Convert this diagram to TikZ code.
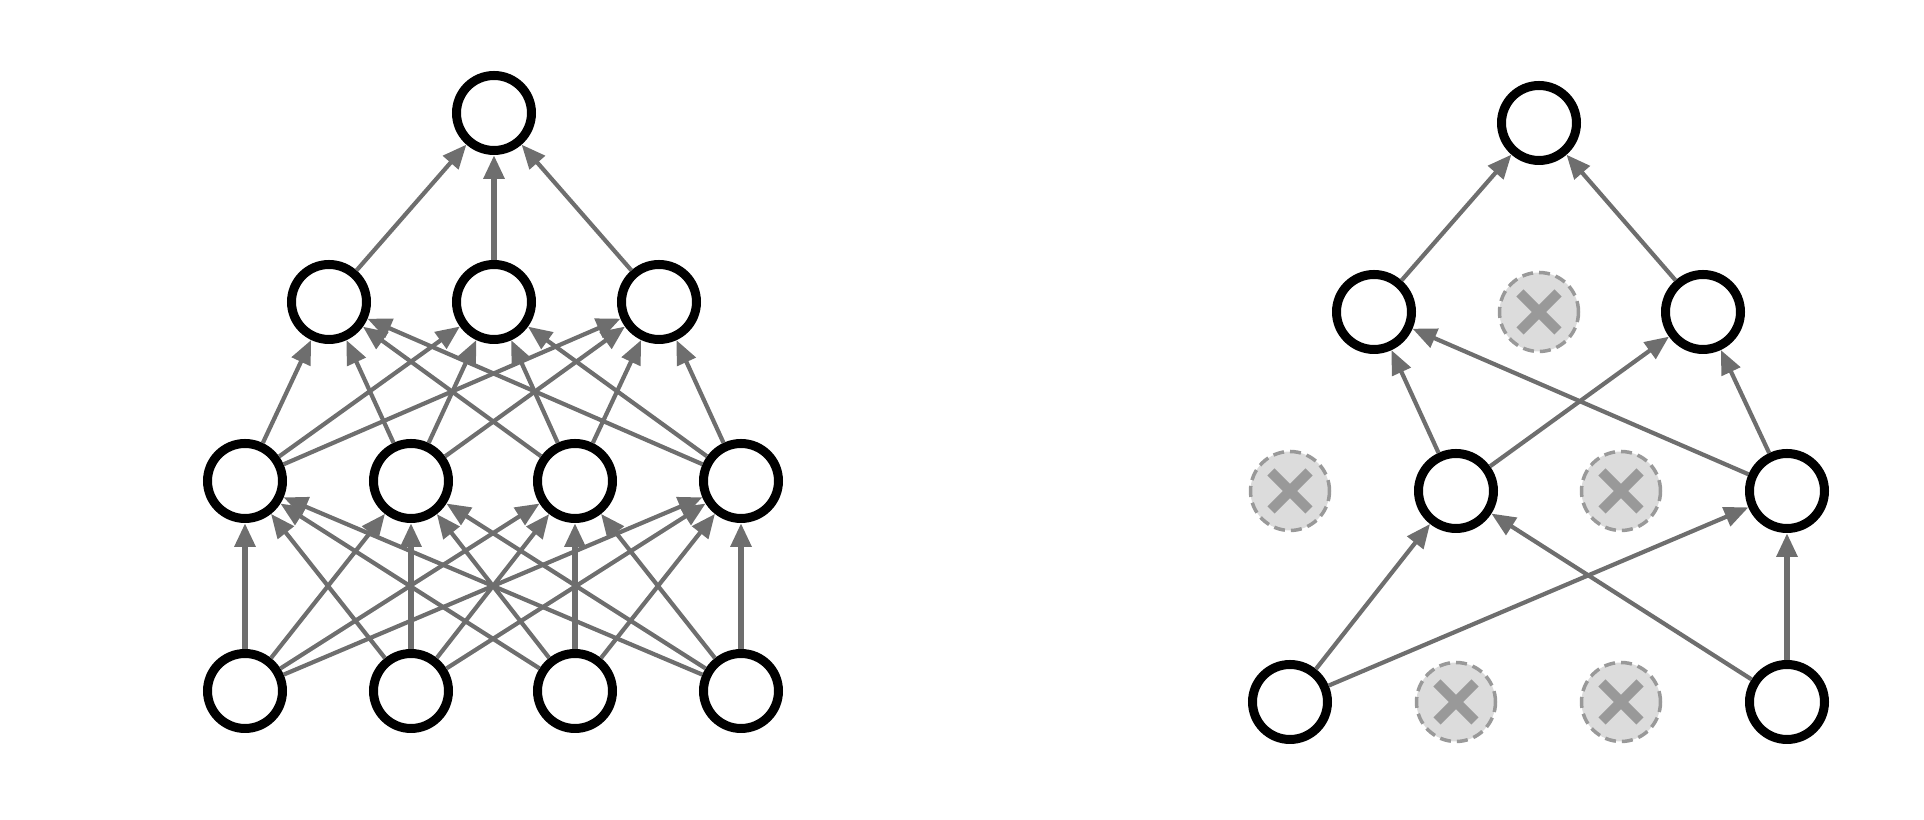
\documentclass[tikz,border=0pt]{standalone}
\usepackage{xcolor}
\usepackage{tikz}
\usetikzlibrary{arrows.meta}

\definecolor{abu}{HTML}{6E6E6E}
\definecolor{abumuda}{HTML}{DCDCDC}
\definecolor{abugaris}{HTML}{999999}

\begin{document}
\begin{tikzpicture}[
    neuron/.style={draw, circle, line width=0.09cm, minimum size=0.75cm, inner sep=0pt},
    putus/.style={draw=abugaris, dash pattern=on 0.11cm off 0.06cm, circle,
                  fill=abumuda, line width=0.035cm, minimum size=0.79cm, inner sep=0pt,
                  path picture={
                    \draw[solid, abugaris, line width=0.1cm]
                      (path picture bounding box.center) ++(-0.19,-0.19) -- ++(0.38,0.38);
                    \draw[solid, abugaris, line width=0.1cm]
                      (path picture bounding box.center) ++(-0.19,0.19) -- ++(0.38,-0.38);
                  }},
    panah/.style={-{Triangle[length=0.24cm, width=0.2cm]}, abu, line width=0.042cm},
    tebal/.style={panah, line width=0.06cm}
  ]
    \useasboundingbox (0,0) rectangle (19.24,8.20);

    % jaringan penuh (kiri)
    \node[neuron] (y) at (4.94,7.07) {};
    \node[neuron] (g1) at (3.29,5.18) {};
    \node[neuron] (g2) at (4.94,5.18) {};
    \node[neuron] (g3) at (6.59,5.18) {};
    \node[neuron] (h1) at (2.45,3.39) {};
    \node[neuron] (h2) at (4.11,3.39) {};
    \node[neuron] (h3) at (5.75,3.39) {};
    \node[neuron] (h4) at (7.41,3.39) {};
    \node[neuron] (x1) at (2.45,1.29) {};
    \node[neuron] (x2) at (4.11,1.29) {};
    \node[neuron] (x3) at (5.75,1.29) {};
    \node[neuron] (x4) at (7.41,1.29) {};

    \draw[panah] (g1) -- (y);
    \draw[tebal] (g2) -- (y);
    \draw[panah] (g3) -- (y);

    \draw[panah] (h1) -- (g1); \draw[panah] (h1) -- (g2); \draw[panah] (h1) -- (g3);
    \draw[panah] (h2) -- (g1); \draw[panah] (h2) -- (g2); \draw[panah] (h2) -- (g3);
    \draw[panah] (h3) -- (g1); \draw[panah] (h3) -- (g2); \draw[panah] (h3) -- (g3);
    \draw[panah] (h4) -- (g1); \draw[panah] (h4) -- (g2); \draw[panah] (h4) -- (g3);

    \draw[tebal] (x1) -- (h1); \draw[panah] (x1) -- (h2);
    \draw[panah] (x1) -- (h3); \draw[panah] (x1) -- (h4);
    \draw[panah] (x2) -- (h1); \draw[tebal] (x2) -- (h2);
    \draw[panah] (x2) -- (h3); \draw[panah] (x2) -- (h4);
    \draw[panah] (x3) -- (h1); \draw[panah] (x3) -- (h2);
    \draw[tebal] (x3) -- (h3); \draw[panah] (x3) -- (h4);
    \draw[panah] (x4) -- (h1); \draw[panah] (x4) -- (h2);
    \draw[panah] (x4) -- (h3); \draw[tebal] (x4) -- (h4);

    % jaringan dengan dropout (kanan)
    \node[neuron] (yk) at (15.39,6.97) {};
    \node[neuron] (g1k) at (13.74,5.08) {};
    \node[putus] (g2k) at (15.39,5.08) {};
    \node[neuron] (g3k) at (17.03,5.08) {};
    \node[putus] (h1k) at (12.90,3.29) {};
    \node[neuron] (h2k) at (14.56,3.29) {};
    \node[putus] (h3k) at (16.21,3.29) {};
    \node[neuron] (h4k) at (17.87,3.29) {};
    \node[neuron] (x1k) at (12.90,1.18) {};
    \node[putus] (x2k) at (14.56,1.18) {};
    \node[putus] (x3k) at (16.21,1.18) {};
    \node[neuron] (x4k) at (17.87,1.18) {};

    \draw[panah] (g1k) -- (yk);
    \draw[panah] (g3k) -- (yk);
    \draw[panah] (h2k) -- (g1k); \draw[panah] (h2k) -- (g3k);
    \draw[panah] (h4k) -- (g1k); \draw[panah] (h4k) -- (g3k);
    \draw[panah] (x1k) -- (h2k); \draw[panah] (x1k) -- (h4k);
    \draw[panah] (x4k) -- (h2k); \draw[tebal] (x4k) -- (h4k);
  \end{tikzpicture}
\end{document}
